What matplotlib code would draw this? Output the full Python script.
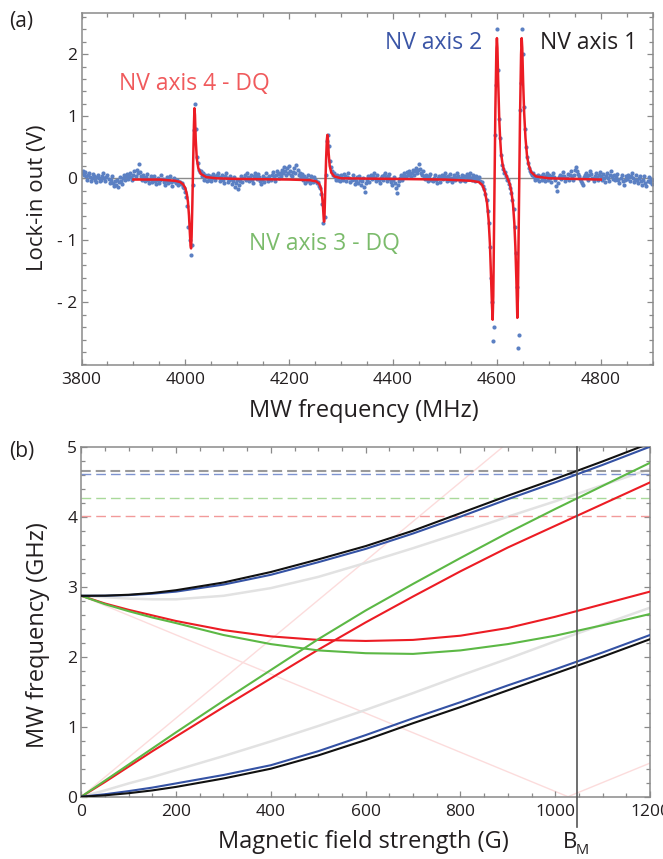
import numpy as np
import matplotlib
matplotlib.use("Agg")
import matplotlib.pyplot as plt
from matplotlib.ticker import MultipleLocator, FixedLocator, FixedFormatter

plt.rcParams['font.family'] = ['Open Sans', 'DejaVu Sans']
plt.rcParams['lines.scale_dashes'] = False

# ---------------- panel (a) data ----------------
freq_start, freq_stop, freq_step = 3800, 4900, 2  # MHz sweep
# lock-in readings in units of 0.01 V, one per sweep point
lockin_a = [8, 12, 5, 10, 3, -2, 6, 9, 2, -4,
            1, 7, 4, -3, -6, 2, 5, 0, -5, -2,
            3, 8, 1, -4, 2, 6, -1, -7, -3, 4,
            -8, -12, -5, -10, -3, -14, -6, 2, -4, -9,
            0, 5, -2, 3, 7, -1, 4, 9, 2, -3,
            6, 11, 4, 14, 8, 23, 10, 3, -2, 5,
            0, -4, 2, 7, -3, -8, -1, 4, -6, -2,
            3, -5, -9, -2, 1, -7, -3, 5, -1, -6,
            -10, -4, 2, -8, -3, 4, -6, -12, -5, 0,
            -4, -8, -3, -10, -6]
lockin_nv4 = [-6, -9, -8, -14, -16, -22, -30, -45, -78, -100,
              -123, -108, -10, 78, 120, 80, 35, 25, 14, 10,
              12, 3, 8, -3, 5, 2, -4, 6]
lockin_b = [-2, 4, -5, 1, 7, 3, -3, 5, 9, 2,
            -4, 0, 6, -2, -8, 3, 8, 1, -6, -3,
            4, -1, -9, -5, 2, -14, -7, -2, -18, -10,
            -4, 3, -6, 0, 5, -3, 8, 2, -5, 1,
            6, -2, -7, 3, 9, 4, -1, 7, 2, -4,
            -9, -3, 4, -6, 1, 8, 0, -5, 3, -2,
            5, 10, 3, -4, 6, 12, 7, 1, 9, 4,
            14, 8, 18, 11, 5, 16, 9, 20, 12, 6,
            3, 10, 17, 8, 21, 13, 5, 9, 2, 7,
            -3, 4, -7, 1, -5, 6, -2, -8, 3, -4,
            -6, 2]
lockin_nv3 = [-3, -5, -8, -6, -12, -15, -25, -42, -72, -62,
              5, 60, 70, 52, 28, 18, 12, 6, 9, 2, -3, 5, -2]
lockin_c = [3, -4, 6, 1, -2, 7, 4, -5, 2, 8,
            0, -6, -3, 5, -1, -9, -4, 2, -7, 3,
            -2, -10, -5, 1, -14, -22, -8, -3, 4, -6,
            2, 6, -1, 3, 8, 0, -4, 5, -2, -7,
            1, 4, -3, 6, 9, 2, -5, 3, 7, -1,
            -6, -11, -3, 2, -8, -15, -24, -10, -4, 1,
            5, -2, 4, 8, 3, 10, 6, 12, 7, 2,
            9, 14, 6, 11, 17, 8, 13, 23, 15, 9,
            5, 11, 4, -1, 6, 2, -5, 3, 7, -2,
            -4, 1, 5, -3, -8, 0, 4, -6, 2, 6,
            -1, 3, 8, 2, -5, 4, -2, 7, 1, -6,
            0, 5, -3, 2, 9, 4, -4, 1, 6, -2,
            3, -5, 2, 7, -1, 4, 8, 0, -3, 5,
            1, -4, 3, -2]
lockin_nv21 = [-3, 2, -4, -8, -6, -12, -17, -25, -35, -52,
               -72, -110, -160, -200, -262, -240, 70, 150, 240, 175,
               95, 65, 38, 22, 15, 8, 10, 3, -2, -3,
               -9, -15, -24, -35, -50, -78, -120, -175, -273, -252,
               110, 154, 240, 200, 115, 80, 50, 35, 25, 16,
               11, 8, 5, 9, 2, -3, 4, -1, 6, -5,
               3, -2, 7, 1]
lockin_d = [-4, 3, 8, -2, 5, 1, -6, 4, 9, 2,
            -3, -12, -20, -8, 2, 6, -1, 4, 10, 3,
            -5, 1, 7, -2, 5, 11, 4, -3, 6, 13,
            18, 12, 7, 3, -1, -4, -8, -11, 2, 6,
            9, 3, -2, 5, 12, 7, 1, -5, 4, 8,
            2, -3, 6, 10, 4, -2, 7, 1, -6, 3,
            8, 0, -4, 5, 11, 3, -1, 6, -3, 2,
            7, -2, -8, 1, 5, -5, -11, -3, 4, -1,
            6, 2, -4, 3, 9, 1, -6, -2, 5, -3,
            -8, 0, 4, -5, -10, -2, 3, -7, -13, -4,
            2, -6, -1, -9, -3]

fit_freq = [3900, 3950, 3980, 3990, 3996, 4000, 4003, 4005, 4007, 4008.5,
            4010, 4011, 4012, 4013.5, 4015, 4016.5, 4017.5, 4018.5, 4020, 4022,
            4025, 4030, 4040, 4060, 4100, 4200, 4240, 4252, 4258, 4261,
            4263, 4265, 4266.5, 4267.2, 4268, 4269.5, 4271, 4272.5, 4273.5, 4274.5,
            4276, 4278, 4281, 4287, 4300, 4400, 4500, 4550, 4565, 4572,
            4577, 4581, 4584, 4586.5, 4588.5, 4590.5, 4591.8, 4593, 4595, 4597,
            4599, 4600, 4601, 4602.5, 4604.5, 4606, 4608, 4611, 4614, 4618,
            4622, 4625, 4628, 4631, 4633.5, 4635.5, 4637.5, 4639.3, 4640.5, 4642.5,
            4644.5, 4646.5, 4647.7, 4648.8, 4650.5, 4652.5, 4655, 4658, 4661, 4666,
            4675, 4700, 4800]
fit_volts = [-0.02, -0.02, -0.04, -0.06, -0.10, -0.16, -0.26, -0.38, -0.60, -0.85,
             -1.08, -1.13, -0.95, -0.40, 0.25, 0.85, 1.13, 1.02, 0.62, 0.32,
             0.16, 0.07, 0.02, 0.0, -0.01, -0.02, -0.03, -0.05, -0.09, -0.16,
             -0.25, -0.45, -0.66, -0.70, -0.60, -0.15, 0.30, 0.62, 0.70, 0.64,
             0.40, 0.20, 0.09, 0.03, 0.0, -0.01, -0.02, -0.04, -0.06, -0.11,
             -0.22, -0.40, -0.67, -1.05, -1.55, -2.05, -2.28, -1.90, -0.40, 1.10,
             2.10, 2.26, 2.10, 1.55, 0.95, 0.67, 0.40, 0.22, 0.12, 0.05,
             -0.03, -0.10, -0.22, -0.42, -0.72, -1.10, -1.65, -2.25, -1.90, -0.40,
             1.00, 2.00, 2.26, 2.10, 1.55, 1.05, 0.65, 0.36, 0.22, 0.10,
             0.03, 0.0, -0.02]

a_yticks = [-2, -1, 0, 1, 2]
a_yticklabels = ['- 2', '- 1', '0', '1', '2']
a_xticks = [3800, 4000, 4200, 4400, 4600, 4800]

# ---------------- panel (b) data ----------------
field_G = [0, 50, 100, 150, 200, 300, 400, 500, 600, 700, 800, 900, 1000, 1100, 1200]
black_upper = [2.87, 2.872, 2.885, 2.91, 2.95, 3.06, 3.21, 3.39, 3.58, 3.80, 4.05, 4.30, 4.54, 4.79, 5.05]
blue_upper = [2.87, 2.871, 2.88, 2.90, 2.93, 3.03, 3.17, 3.35, 3.54, 3.76, 4.00, 4.25, 4.49, 4.74, 5.00]
gray_upper = [2.87, 2.85, 2.83, 2.82, 2.82, 2.87, 2.98, 3.14, 3.34, 3.55, 3.77, 4.00, 4.22, 4.45, 4.68]
red_dq = [0, 0.21, 0.43, 0.65, 0.86, 1.28, 1.69, 2.10, 2.49, 2.86, 3.22, 3.56, 3.87, 4.18, 4.49]
green_dq = [0, 0.23, 0.46, 0.69, 0.92, 1.37, 1.81, 2.25, 2.66, 3.04, 3.41, 3.77, 4.11, 4.44, 4.77]
red_mid = [2.87, 2.76, 2.67, 2.59, 2.51, 2.38, 2.29, 2.24, 2.225, 2.24, 2.30, 2.41, 2.57, 2.75, 2.93]
green_mid = [2.87, 2.75, 2.65, 2.56, 2.48, 2.31, 2.18, 2.09, 2.05, 2.04, 2.09, 2.18, 2.30, 2.45, 2.61]
black_lower = [0, 0.02, 0.05, 0.09, 0.14, 0.26, 0.40, 0.59, 0.81, 1.05, 1.28, 1.52, 1.76, 2.00, 2.25]
blue_lower = [0, 0.035, 0.08, 0.13, 0.19, 0.31, 0.45, 0.65, 0.88, 1.12, 1.35, 1.59, 1.82, 2.06, 2.31]
gray_lower = [0, 0.09, 0.19, 0.28, 0.38, 0.58, 0.79, 1.01, 1.24, 1.48, 1.73, 1.97, 2.22, 2.46, 2.70]
pink_down_B = [0, 1027, 1200]
pink_down_f = [2.87, 0.0, 0.48]
pink_up_B = [0, 890]
pink_up_f = [0.0, 5.0]
marker_freqs = [4.650, 4.604, 4.271, 4.014]
B_M = 1046

# ---------------- figure ----------------
W, H = 663, 859
fig = plt.figure(figsize=(W / 100, H / 100), dpi=100)


def rect(l, t, r, b):
    return [l / W, 1 - b / H, (r - l) / W, (b - t) / H]


def fxy(x, y):
    return x / W, 1 - y / H


FRAME = '#8a8a8a'
TXT = '#231f20'


def style(ax):
    for s in ax.spines.values():
        s.set_color(FRAME)
        s.set_linewidth(1.1)
    ax.tick_params(which='both', direction='in', top=True, right=True,
                   color=FRAME, width=0.9, labelcolor=TXT, labelsize=12.5)
    ax.tick_params(which='major', length=4.5)
    ax.tick_params(which='minor', length=2.6)
    ax.tick_params(axis='x', pad=5)
    ax.tick_params(axis='y', pad=3)


ax1 = fig.add_axes(rect(81.5, 12.7, 652.7, 365))
ax2 = fig.add_axes(rect(81.3, 446.7, 650, 796.7))
style(ax1)
style(ax2)

# panel (a)
lockin = np.array(lockin_a + lockin_nv4 + lockin_b + lockin_nv3 + lockin_c
                  + lockin_nv21 + lockin_d) / 100.0
freq = np.arange(freq_start, freq_stop + freq_step, freq_step)[:len(lockin)]
ax1.axhline(0, color='#8c8c8c', lw=1.0, zorder=1)
ax1.plot(freq, lockin, 'o', ms=3.0, mew=0, color='#5b80c3', zorder=2)
ax1.plot(fit_freq, fit_volts, color='#ec1c24', lw=1.8, zorder=3)
ax1.set_xlim(3800, 4900)
ax1.set_ylim(-3.01, 2.67)
ax1.xaxis.set_major_locator(FixedLocator(a_xticks))
ax1.xaxis.set_minor_locator(MultipleLocator(50))
ax1.yaxis.set_major_locator(FixedLocator(a_yticks))
ax1.yaxis.set_major_formatter(FixedFormatter(a_yticklabels))
ax1.yaxis.set_minor_locator(MultipleLocator(0.2))

fig.text(*fxy(434, 43), 'NV axis 2', color='#3a55a6', fontsize=16.5, ha='center', va='center')
fig.text(*fxy(589, 43), 'NV axis 1', color=TXT, fontsize=16.5, ha='center', va='center')
fig.text(*fxy(194.5, 84), 'NV axis 4 - DQ', color='#f05a5c', fontsize=16.5, ha='center', va='center')
fig.text(*fxy(324, 244), 'NV axis 3 - DQ', color='#7bbb6b', fontsize=16.5, ha='center', va='center')

fig.text(*fxy(38, 198), 'Lock-in out (V)', rotation=90, fontsize=16, color=TXT,
         ha='center', va='center')
fig.text(*fxy(364, 411), 'MW frequency (MHz)', fontsize=17, color=TXT, ha='center', va='center')
fig.text(*fxy(21, 22), '(a)', fontsize=15, color=TXT, ha='center', va='center')

# panel (b)
ax2.plot(pink_down_B, pink_down_f, color='#fcdcdc', lw=1.0, zorder=1)
ax2.plot(pink_up_B, pink_up_f, color='#fcdcdc', lw=1.0, zorder=1)
ax2.plot(field_G, gray_upper, color='#e2e2e2', lw=1.8, zorder=2)
ax2.plot(field_G, gray_lower, color='#e2e2e2', lw=1.8, zorder=2)
dash_cols = ['#9a9a9a', '#7d93cf', '#a9d99a', '#f29a9a']
dash_lws = [1.5, 1.0, 1.0, 1.0]
for v, c, lw in zip(marker_freqs, dash_cols, dash_lws):
    ax2.axhline(v, color=c, lw=lw, dashes=(7, 3.6), zorder=2)
ax2.plot(field_G, red_dq, color='#ec1c24', lw=1.5, zorder=3)
ax2.plot(field_G, red_mid, color='#ec1c24', lw=1.5, zorder=3)
ax2.plot(field_G, green_dq, color='#5cb845', lw=1.5, zorder=3)
ax2.plot(field_G, green_mid, color='#5cb845', lw=1.5, zorder=3)
ax2.plot(field_G, blue_upper, color='#3452a4', lw=1.5, zorder=4)
ax2.plot(field_G, blue_lower, color='#3452a4', lw=1.5, zorder=4)
ax2.plot(field_G, black_upper, color='#111111', lw=1.5, zorder=5)
ax2.plot(field_G, black_lower, color='#111111', lw=1.5, zorder=5)
ax2.axvline(B_M, ymin=-0.086, ymax=1, color='#555555', lw=1.2, clip_on=False, zorder=6)
ax2.set_xlim(0, 1200)
ax2.set_ylim(0, 5)
ax2.xaxis.set_major_locator(MultipleLocator(200))
ax2.xaxis.set_minor_locator(MultipleLocator(50))
ax2.yaxis.set_major_locator(MultipleLocator(1))
ax2.yaxis.set_minor_locator(MultipleLocator(0.2))

fig.text(*fxy(38, 635), 'MW frequency (GHz)', rotation=90, fontsize=17, color=TXT,
         ha='center', va='center')
fig.text(*fxy(363, 842), 'Magnetic field strength (G)', fontsize=17, color=TXT,
         ha='center', va='center')
fig.text(*fxy(570, 842), 'B', fontsize=16, color=TXT, ha='center', va='center')
fig.text(*fxy(582, 851), 'M', fontsize=10.5, color=TXT, ha='center', va='center')
fig.text(*fxy(22, 452), '(b)', fontsize=15, color=TXT, ha='center', va='center')

fig.savefig('out.png', dpi=100)
